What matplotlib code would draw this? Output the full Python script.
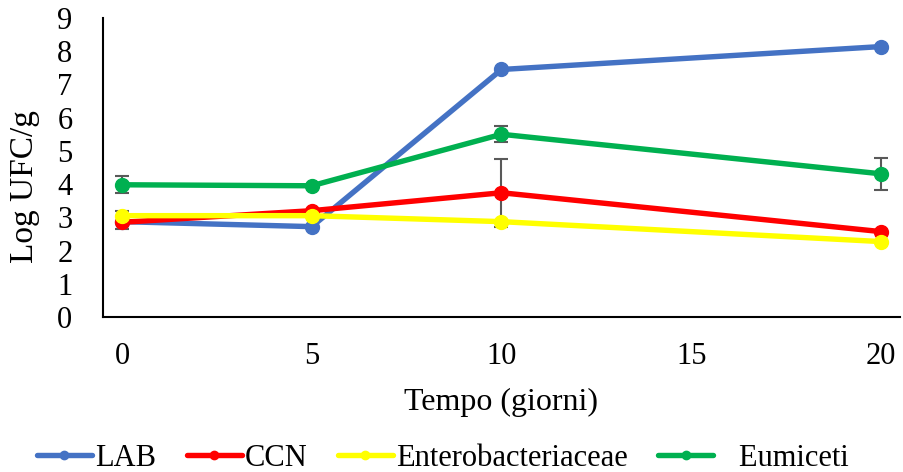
import matplotlib
matplotlib.use("Agg")
import matplotlib.pyplot as plt

days = [0, 5, 10, 20]
lab = [2.87, 2.72, 7.45, 8.14]
ccn = [2.85, 3.2, 3.74, 2.57]
entero = [3.05, 3.05, 2.87, 2.27]
eumiceti = [3.98, 3.95, 5.5, 4.31]

lab_err = [0.0, 0.0, 0.0, 0.0]
ccn_err = [0.2, 0.0, 1.02, 0.0]
entero_err = [0.15, 0.0, 0.0, 0.0]
eumiceti_err = [0.25, 0.0, 0.24, 0.48]

labels = ["LAB", "CCN", "Enterobacteriaceae", "   Eumiceti"]
colors = ["#4472C4", "#FF0000", "#FFFF00", "#00B050"]

plt.rcParams['font.family'] = ['Liberation Serif', 'DejaVu Serif']

fig = plt.figure(figsize=(9.04, 4.72), dpi=100)
ax = fig.add_axes([103/904, 1-317/472, 797/904, 299/472])

series = [lab, ccn, entero, eumiceti]
errs = [lab_err, ccn_err, entero_err, eumiceti_err]
handles = []
for s, e, c, lbl in zip(series, errs, colors, labels):
    if any(v > 0 for v in e):
        ax.errorbar(days, s, yerr=e, fmt='none', ecolor='#595959', elinewidth=1.5,
                    capsize=5, capthick=1.5, zorder=2)
for s, c, lbl in zip(series, colors, labels):
    ax.plot(days, s, color=c, lw=3.9, marker='o', ms=10, zorder=3,
            solid_capstyle='round')
    h, = ax.plot([], [], color=c, lw=3.9, marker='o', ms=6, solid_capstyle='round')
    handles.append(h)

ax.set_xlim(-0.5, 20.5)
ax.set_ylim(0, 9)
ax.set_xticks([0, 5, 10, 15, 20])
ax.set_yticks(range(10))
ax.tick_params(length=0, labelsize=22, pad=18)
ax.tick_params(axis='y', pad=22)
for sp in ['top', 'right']:
    ax.spines[sp].set_visible(False)
for sp in ['left', 'bottom']:
    ax.spines[sp].set_linewidth(1.5)
ax.set_xlabel("Tempo (giorni)", fontsize=23, labelpad=12)
ax.set_ylabel("Log UFC/g", fontsize=24)
ax.yaxis.set_label_coords((40-103)/797, (317-187)/299)

fig.legend(handles, labels, loc='center', bbox_to_anchor=(443/904, 1-458/472), ncol=4,
           frameon=False, fontsize=22, handlelength=1.8, handletextpad=0.1,
           columnspacing=1.0)

fig.savefig("out.png", dpi=100)
